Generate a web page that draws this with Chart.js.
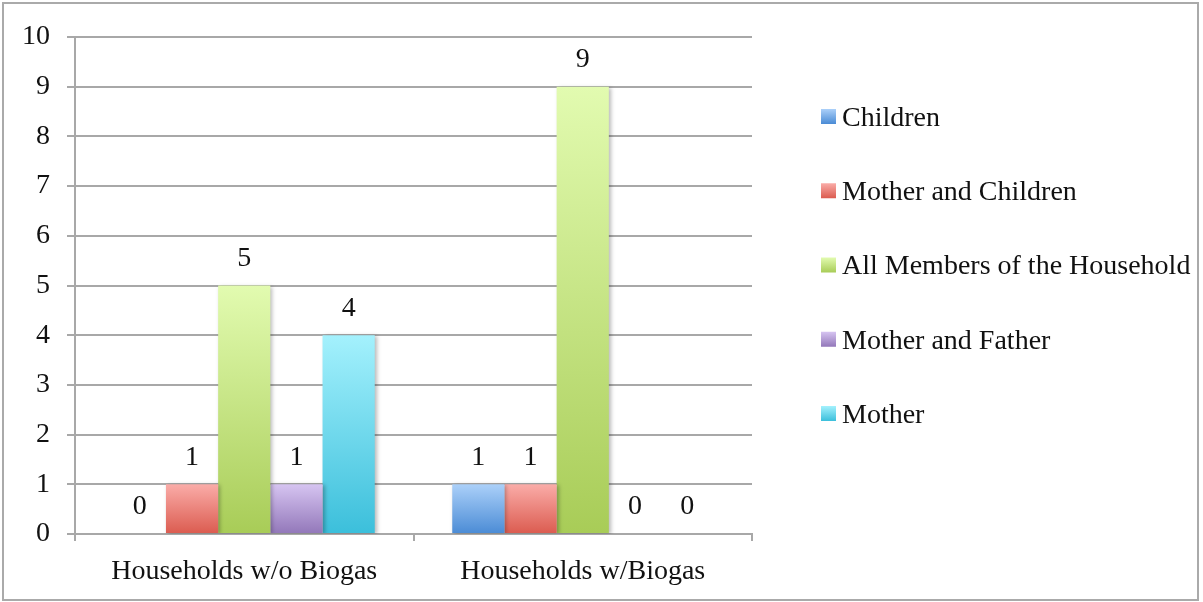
<!DOCTYPE html>
<html>
<head>
<meta charset="utf-8">
<title>Household members</title>
<script src="https://cdn.jsdelivr.net/npm/chart.js@4/dist/chart.umd.min.js"></script>
<style>
  html, body { margin: 0; padding: 0; background: #fff; }
  #wrap { width: 1203px; height: 602px; }
</style>
</head>
<body>
<div id="wrap"><canvas id="chart" width="1203" height="602"></canvas></div>
<script>
const categories = ['Households w/o Biogas', 'Households w/Biogas'];
const seriesNames = ['Children', 'Mother and Children', 'All Members of the Household', 'Mother and Father', 'Mother'];
const children = [0, 1];
const motherAndChildren = [1, 1];
const allMembers = [5, 9];
const motherAndFather = [1, 0];
const mother = [4, 0];
const yTicks = [0, 1, 2, 3, 4, 5, 6, 7, 8, 9, 10];

// light (top) and dark (bottom) stop for each series
const seriesColors = [
  ['#abd0f9', '#4a8bd5'],
  ['#faaca8', '#db5b4f'],
  ['#e2fbb0', '#a8cc57'],
  ['#d6c4f1', '#9277b9'],
  ['#a4f1fd', '#3bbfdb']
];

const FONT = { family: '"Liberation Serif", "Times New Roman", serif', size: 28 };
const GRID = '#a8a8a8';

function barGradient(light, dark) {
  return function (ctx) {
    const chart = ctx.chart;
    if (ctx.type !== 'data' || !chart.chartArea) return dark;
    const y = chart.scales.y;
    const top = y.getPixelForValue(ctx.raw);
    const base = y.getPixelForValue(0);
    if (base - top < 1) return dark;
    const g = chart.ctx.createLinearGradient(0, top, 0, base);
    g.addColorStop(0, light);
    g.addColorStop(1, dark);
    return g;
  };
}

const seriesValues = [children, motherAndChildren, allMembers, motherAndFather, mother];

const datasets = seriesNames.map((name, i) => ({
  label: name,
  data: seriesValues[i],
  backgroundColor: barGradient(seriesColors[i][0], seriesColors[i][1]),
  borderWidth: 0,
  categoryPercentage: 0.771,
  barPercentage: 1
}));

// outer frame of the chart
const framePlugin = {
  id: 'frame',
  beforeDraw(chart) {
    const ctx = chart.ctx;
    ctx.save();
    ctx.fillStyle = '#fff';
    ctx.fillRect(0, 0, chart.width, chart.height);
    ctx.strokeStyle = '#aaaaaa';
    ctx.lineWidth = 2;
    ctx.strokeRect(3, 3, 1195, 597);
    ctx.restore();
  }
};

// soft shadow behind bars, then value labels above them
const barExtras = {
  id: 'barExtras',
  beforeDatasetsDraw(chart) {
    const ctx = chart.ctx;
    ctx.save();
    ctx.shadowColor = 'rgba(0,0,0,0.28)';
    ctx.shadowBlur = 4;
    ctx.shadowOffsetX = 2;
    ctx.shadowOffsetY = 1;
  },
  afterDatasetsDraw(chart) {
    const ctx = chart.ctx;
    ctx.restore();
    ctx.save();
    ctx.font = FONT.size + 'px ' + FONT.family;
    ctx.fillStyle = '#111';
    ctx.textAlign = 'center';
    ctx.textBaseline = 'middle';
    chart.data.datasets.forEach((ds, i) => {
      chart.getDatasetMeta(i).data.forEach((bar, j) => {
        ctx.fillText(String(ds.data[j]), bar.x, bar.y - 27);
      });
    });
    ctx.restore();
  }
};

// legend column on the right
const sideLegend = {
  id: 'sideLegend',
  afterDraw(chart) {
    const ctx = chart.ctx;
    const x = 821, box = 15, firstY = 116.5, step = 74.25;
    ctx.save();
    ctx.font = FONT.size + 'px ' + FONT.family;
    ctx.textBaseline = 'middle';
    ctx.textAlign = 'left';
    chart.data.datasets.forEach((ds, i) => {
      const cy = firstY + i * step;
      const g = ctx.createLinearGradient(0, cy - box / 2, 0, cy + box / 2);
      g.addColorStop(0, seriesColors[i][0]);
      g.addColorStop(1, seriesColors[i][1]);
      ctx.fillStyle = g;
      ctx.fillRect(x, cy - box / 2, box, box);
      ctx.fillStyle = '#111';
      ctx.fillText(ds.label, x + 21, cy + 2);
    });
    ctx.restore();
  }
};

new Chart(document.getElementById('chart'), {
  type: 'bar',
  data: { labels: categories, datasets: datasets },
  options: {
    responsive: false,
    animation: false,
    layout: { padding: { top: 37, right: 451, bottom: 0, left: 0 } },
    plugins: {
      legend: { display: false },
      tooltip: { enabled: false }
    },
    scales: {
      x: {
        afterFit(scale) { scale.height = 68; },
        grid: { offset: true, drawOnChartArea: false, drawTicks: true, tickLength: 7, color: GRID, lineWidth: 2 },
        border: { color: GRID, width: 2 },
        ticks: { font: FONT, color: '#111', padding: 14, maxRotation: 0 }
      },
      y: {
        min: 0,
        max: 10,
        afterFit(scale) { scale.width = 75; },
        afterBuildTicks(scale) { scale.ticks = yTicks.map(v => ({ value: v })); },
        grid: { color: GRID, lineWidth: 2, drawTicks: true, tickLength: 8 },
        border: { color: GRID, width: 2 },
        ticks: { font: FONT, color: '#111', padding: 17 }
      }
    }
  },
  plugins: [framePlugin, barExtras, sideLegend]
});
</script>
</body>
</html>
